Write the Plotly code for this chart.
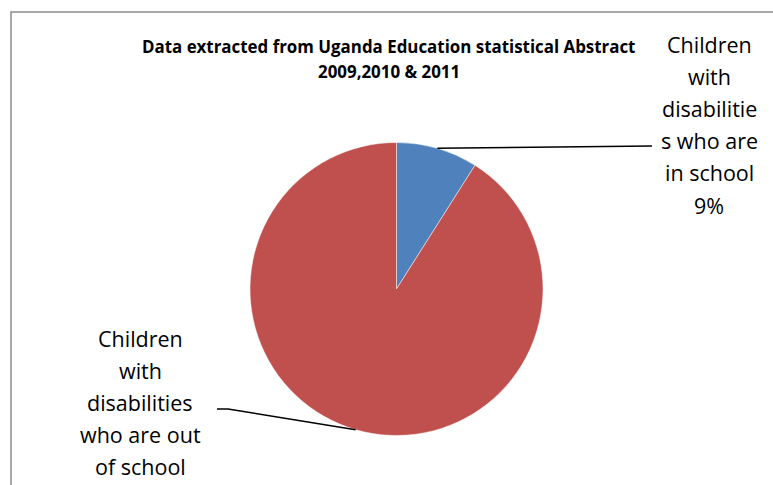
import math
import plotly.graph_objects as go

# ---- data ----
categories = ["Children with disabilities who are in school",
              "Children with disabilities who are out of school"]
values = [9, 91]
colors = ["#4F81BD", "#C0504D"]
title_lines = ["Data extracted from Uganda Education statistical Abstract",
               "2009,2010 & 2011"]
label_words = [
    ["Children", "with", "disabilitie", "s who are", "in school"],
    ["Children", "with", "disabilities", "who are out", "of school"],
]

# ---- layout constants (pixels) ----
W, H = 773, 485
CX, CY, R = 396.5, 289.0, 146.5
FONT = "Open Sans"


def px(x):
    return x / W


def py(y):
    return 1 - y / H


total = sum(values)
pcts = [f"{round(v / total * 100)}%" for v in values]

fig = go.Figure(go.Pie(
    labels=categories,
    values=values,
    sort=False,
    direction="clockwise",
    rotation=0,
    marker=dict(colors=colors, line=dict(color="rgba(255,255,255,0.6)", width=0.8)),
    textinfo="none",
    hoverinfo="label+percent",
    showlegend=False,
    domain=dict(x=[px(CX - R), px(CX + R)], y=[py(CY + R), py(CY - R)]),
))

annotations = []
# title
for i, t in enumerate(title_lines):
    annotations.append(dict(
        x=px(388.5), y=py(46 + i * 25), xref="paper", yref="paper",
        text=f"<b>{t}</b>", showarrow=False, xanchor="center", yanchor="middle",
        font=dict(family=FONT, size=16.9, color="#000000"),
    ))

# data labels
label_pos = [(709, 44), (140, 338)]
spacing = 32.2
for k, words in enumerate(label_words):
    lines = words + [pcts[k]]
    lx, ly = label_pos[k]
    for i, t in enumerate(lines):
        annotations.append(dict(
            x=px(lx), y=py(ly + i * spacing), xref="paper", yref="paper",
            text=t, showarrow=False, xanchor="center", yanchor="middle",
            font=dict(family=FONT, size=21.5, color="#000000"),
        ))

# leader lines from slice midpoints
shapes = []
cum = 0
mids = []
for v in values:
    a = (cum + v / 2) / total * 2 * math.pi
    mids.append((CX + R * math.sin(a), CY - R * math.cos(a)))
    cum += v

# right label leader
(mx, my) = mids[0]
shapes.append(dict(type="line", xref="paper", yref="paper",
                   x0=px(mx), y0=py(my), x1=px(652), y1=py(146),
                   line=dict(color="#000000", width=1.5)))
# left label leader
(mx, my) = mids[1]
shapes.append(dict(type="path", xref="paper", yref="paper",
                   path=f"M {px(mx)},{py(my)} L {px(228)},{py(409)} L {px(217)},{py(409)}",
                   line=dict(color="#000000", width=1.5)))

# chart border (only left and top edges visible)
shapes.append(dict(type="rect", xref="paper", yref="paper",
                   x0=px(11), x1=px(W + 20), y0=py(H + 20), y1=py(12),
                   line=dict(color="#8C8C8C", width=1.5), fillcolor="rgba(0,0,0,0)"))

fig.update_layout(
    width=W, height=H,
    margin=dict(l=0, r=0, t=0, b=0),
    paper_bgcolor="#FFFFFF",
    plot_bgcolor="#FFFFFF",
    annotations=annotations,
    shapes=shapes,
)

fig.write_html("out.html")
